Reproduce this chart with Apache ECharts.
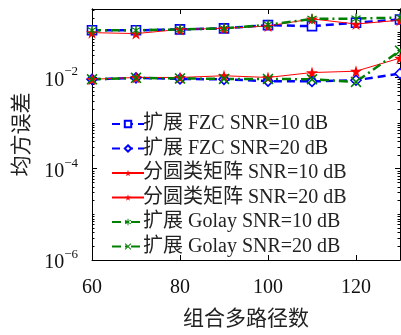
<!DOCTYPE html>
<html><head><meta charset="utf-8">
<script src="https://cdn.jsdelivr.net/npm/echarts@6/dist/echarts.min.js"></script>
<style>html,body{margin:0;padding:0;background:#fff}#c{width:401px;height:335px}</style>
</head><body><div id="c"></div>
<script>
const paths = [60, 70, 80, 90, 100, 110, 120, 130];
const fzc10 = [0.108, 0.108, 0.113, 0.119, 0.140, 0.133, 0.158, 0.186];
const fzc20 = [0.0091, 0.0098, 0.0093, 0.0091, 0.0083, 0.0082, 0.0087, 0.0122];
const cyc10 = [0.096, 0.0915, 0.113, 0.119, 0.134, 0.192, 0.148, 0.180];
const cyc20 = [0.0091, 0.0100, 0.0100, 0.0109, 0.0100, 0.0128, 0.0137, 0.0266];
const gol10 = [0.108, 0.108, 0.113, 0.119, 0.143, 0.192, 0.195, 0.205];
const gol20 = [0.0091, 0.0098, 0.0095, 0.0093, 0.0093, 0.0091, 0.0080, 0.0386];
const xTicks = [60, 80, 100, 120];
const yTicks = [1e-6, 1e-4, 1e-2];
const names = ['扩展 FZC SNR=10 dB', '扩展 FZC SNR=20 dB', '分圆类矩阵 SNR=10 dB', '分圆类矩阵 SNR=20 dB', '扩展 Golay SNR=10 dB', '扩展 Golay SNR=20 dB'];

const yMin = 1e-6, yMax = Math.pow(10, -0.5);
const minorTicks = [];
for (let e = -6; e <= -1; e++) for (let k = 1; k <= 9; k++) {
  const v = k * Math.pow(10, e);
  if (v >= yMin && v <= yMax && yTicks.indexOf(v) < 0) minorTicks.push(v);
}
const FONT = '"Liberation Serif","Noto Sans CJK SC",serif';
const star = 'path://M50,0 L61,35 L98,35 L68,57 L79,91 L50,70 L21,91 L32,57 L2,35 L39,35 Z';
const xMark = 'path://M10,0 L50,40 L90,0 L100,10 L60,50 L100,90 L90,100 L50,60 L10,100 L0,90 L40,50 L0,10 Z';
const aster = 'path://M44,0 L56,0 L56,36 L86,16 L92,26 L62,44 L62,56 L92,74 L86,84 L56,64 L56,100 L44,100 L44,64 L14,84 L8,74 L38,56 L38,44 L8,26 L14,16 L44,36 Z';

function xAx(pos, labels) {
  return {
    type: 'value', position: pos, min: 60, max: 130, interval: 20,
    axisLine: {show: true, onZero: false, lineStyle: {color: '#000', width: 1}},
    axisTick: {show: true, inside: true, length: 5, customValues: xTicks, lineStyle: {color: '#000'}},
    axisLabel: {show: labels, customValues: xTicks, margin: 18, color: '#111', fontFamily: FONT, fontSize: 20},
    splitLine: {show: false},
    name: labels ? '组合多路径数' : '', nameLocation: 'middle', nameGap: 49,
    nameTextStyle: {fontFamily: FONT, fontSize: 21, color: '#222'}
  };
}
function yAx(pos, major, labels) {
  return {
    type: 'log', logBase: 10, position: pos, min: yMin, max: yMax,
    axisLine: {show: true, onZero: false, lineStyle: {color: '#000', width: 1}},
    axisTick: {show: true, inside: true, length: major ? 5 : 2.5, customValues: major ? yTicks : minorTicks, lineStyle: {color: '#000', width: 1}},
    axisLabel: {show: labels, customValues: yTicks, margin: 14, color: '#111',
      formatter: v => '{b|10}{s|' + String(Math.round(Math.log10(v))).replace('-', '−') + '}',
      rich: {b: {fontFamily: FONT, fontSize: 20, color: '#111', padding: [6, 0, 0, 0]}, s: {fontFamily: FONT, fontSize: 13, color: '#111', verticalAlign: 'bottom', padding: [0, 0, 12, 0]}}},
    splitLine: {show: false},
    name: labels ? '均方误差' : '', nameLocation: 'middle', nameGap: 58, nameRotate: 90,
    nameTextStyle: {fontFamily: FONT, fontSize: 21, color: '#222'}
  };
}
function ser(name, vals, color, lineType, width, symbol, size, hollow) {
  return {
    name: name, type: 'line', data: paths.map((x, i) => [x, vals[i]]),
    xAxisIndex: 0, yAxisIndex: 0, symbol: symbol, symbolSize: size, showSymbol: true,
    lineStyle: {color: color, width: width, type: lineType},
    itemStyle: hollow ? {color: '#fff', borderColor: color, borderWidth: 1.6} : {color: color, borderWidth: 0},
    color: color, animation: false, z: 2
  };
}
const chart = echarts.init(document.getElementById('c'), null, {renderer: 'canvas'});
chart.setOption({
  animation: false,
  grid: {left: 92, right: 1, top: 9, bottom: 70},
  xAxis: [xAx('bottom', true), xAx('top', false)],
  yAxis: [yAx('left', true, true), yAx('left', false, false), yAx('right', true, false), yAx('right', false, false)],
  legend: {
    orient: 'vertical', left: 106, top: 109, itemWidth: 32, itemHeight: 8, itemGap: 4.5,
    textStyle: {fontFamily: FONT, fontSize: 20, lineHeight: 14, color: '#222', padding: [0, 0, 0, -6]},
    data: names
  },
  series: [
    ser(names[0], fzc10, '#0000ff', [8, 5], 2.5, 'rect', 9, true),
    ser(names[1], fzc20, '#0000ff', [8, 5], 2.5, 'diamond', 10, true),
    ser(names[2], cyc10, '#ff0000', 'solid', 1, star, 12, false),
    ser(names[3], cyc20, '#ff0000', 'solid', 1, star, 12, false),
    ser(names[4], gol10, '#008000', [9, 4, 2, 4], 2.5, aster, 10, false),
    ser(names[5], gol20, '#008000', [9, 4, 2, 4], 2.5, xMark, 11, false)
  ]
});
</script></body></html>
